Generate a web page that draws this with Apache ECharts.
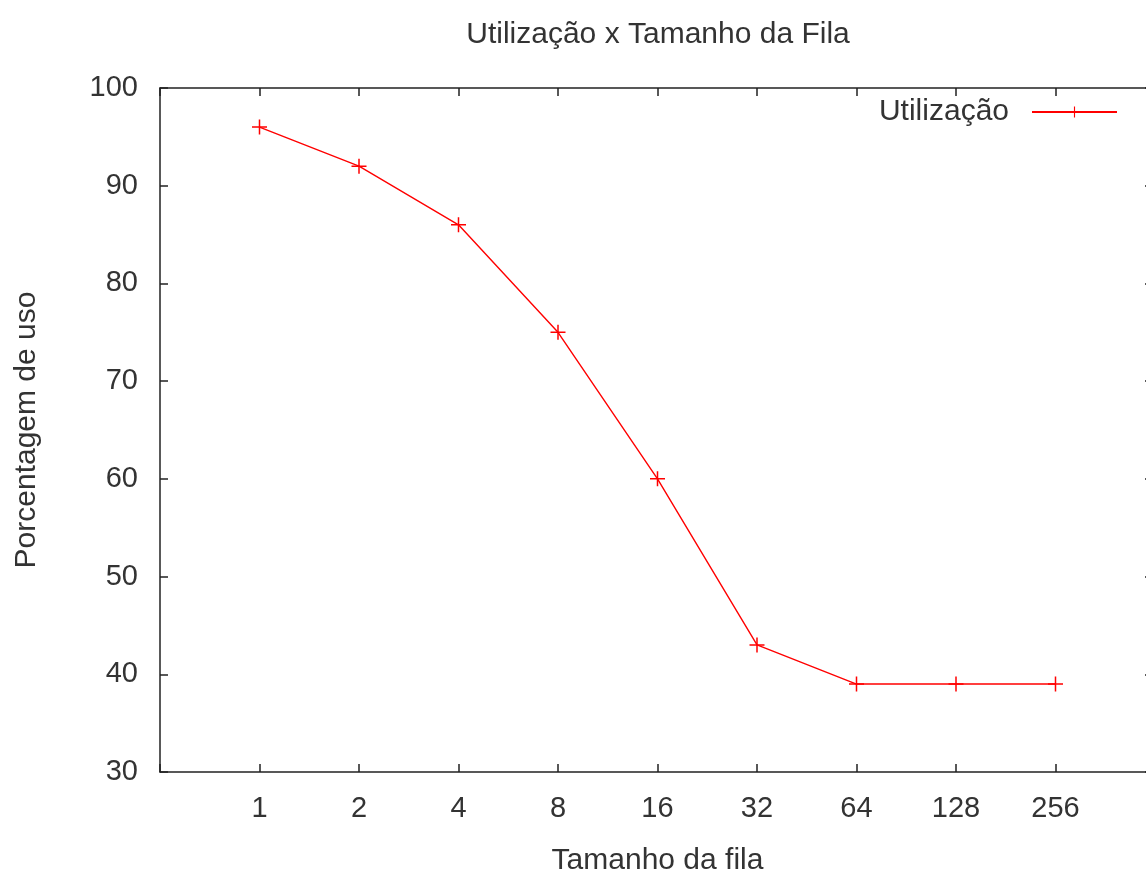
<!DOCTYPE html>
<html>
<head>
<meta charset="utf-8">
<script src="https://cdn.jsdelivr.net/npm/echarts@6/dist/echarts.min.js"></script>
<style>
  html, body { margin: 0; padding: 0; background: #fff; }
  #chart { width: 1146px; height: 873px; }
</style>
</head>
<body>
<div id="chart"></div>
<script>
// tamanhos da fila (eixo x) e utilização (%)
var filas = ['1', '2', '4', '8', '16', '32', '64', '128', '256']
var utilizacao = [96, 92, 86, 75, 60, 43, 39, 39, 39]
var yTicks = [30, 40, 50, 60, 70, 80, 90, 100]

var pontos = utilizacao.map(function (v, i) { return [i + 1, v] })
var fonte = 'Liberation Sans, Arial, sans-serif'
var cor = '#ff0000'
var texto = '#333'
var plus = 'path://M-0.1,-1 L0.1,-1 L0.1,-0.1 L1,-0.1 L1,0.1 L0.1,0.1 L0.1,1 L-0.1,1 L-0.1,0.1 L-1,0.1 L-1,-0.1 L-0.1,-0.1 Z'

var chart = echarts.init(document.getElementById('chart'))
var eixo = { onZero: false, lineStyle: { color: '#222', width: 1.5 } }
var tick = { inside: true, length: 8, lineStyle: { color: '#222', width: 1.5 } }
var option = {
  animation: false,
  title: {
    text: 'Utilização x Tamanho da Fila',
    left: 653,
    textAlign: 'center',
    top: 15,
    textStyle: { fontFamily: fonte, fontWeight: 'normal', fontSize: 30, color: texto }
  },
  legend: {
    right: 23,
    top: 92,
    align: 'right',
    itemWidth: 85,
    itemHeight: 14,
    itemGap: 14,
    textStyle: { fontFamily: fonte, fontSize: 30, color: texto, padding: [0, 18, 0, 0] }
  },
  grid: { left: 160, top: 88, width: 995, height: 684, containLabel: false, outerBoundsMode: 'none' },
  xAxis: [
    {
      type: 'value', min: 0, max: 10, interval: 1, position: 'bottom',
      name: 'Tamanho da fila', nameLocation: 'middle', nameGap: 74,
      nameTextStyle: { fontFamily: fonte, fontSize: 30, color: texto },
      axisLine: eixo,
      axisTick: tick,
      axisLabel: {
        margin: 22, fontFamily: fonte, fontSize: 29, color: texto,
        formatter: function (v) { return filas[v - 1] || '' }
      },
      splitLine: { show: false }
    },
    {
      type: 'value', min: 0, max: 10, interval: 1, position: 'top',
      axisLine: eixo,
      axisTick: tick,
      axisLabel: { show: false },
      splitLine: { show: false }
    }
  ],
  yAxis: [
    {
      type: 'value', min: 30, max: 100, interval: 10, position: 'left',
      name: 'Porcentagem de uso', nameLocation: 'middle', nameGap: 118, nameRotate: 90,
      nameTextStyle: { fontFamily: fonte, fontSize: 30, color: texto },
      axisLine: eixo,
      axisTick: tick,
      axisLabel: {
        margin: 22, fontFamily: fonte, fontSize: 29, color: texto,
        formatter: function (v) { return yTicks.indexOf(v) >= 0 ? String(v) : '' }
      },
      splitLine: { show: false }
    },
    {
      type: 'value', min: 30, max: 100, interval: 10, position: 'right',
      axisLine: eixo,
      axisTick: { inside: true, length: 10, lineStyle: { color: '#222', width: 1.5 } },
      axisLabel: { show: false },
      splitLine: { show: false }
    }
  ],
  series: [
    {
      name: 'Utilização',
      type: 'line',
      data: pontos,
      symbol: plus,
      symbolSize: 15,
      showAllSymbol: true,
      lineStyle: { color: cor, width: 1.4 },
      itemStyle: { color: cor }
    }
  ]
}
chart.setOption(option)
</script>
</body>
</html>
